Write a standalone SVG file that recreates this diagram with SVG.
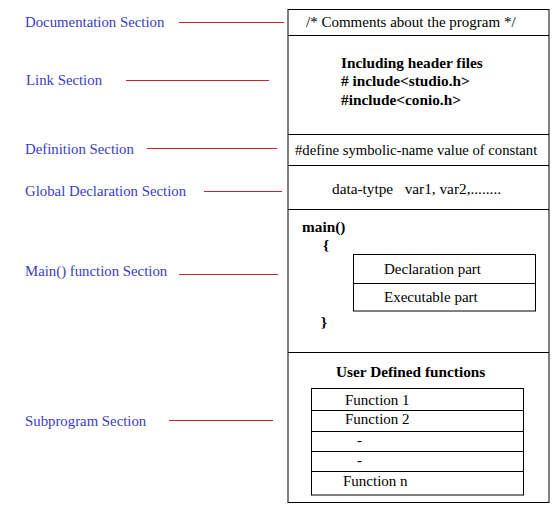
<svg xmlns="http://www.w3.org/2000/svg" width="560" height="510" viewBox="0 0 560 510">
<style>
.lbl{font-family:"Liberation Serif","Times New Roman",serif;font-size:14.8px;fill:#3c3cbe}
.t{font-family:"Liberation Serif","Times New Roman",serif;font-size:15px;fill:#000}
.b{font-weight:bold;font-size:15.3px}
.box{fill:none;stroke:#000;stroke-width:1}
.ln{stroke:#000;stroke-width:1}
.con{stroke:#c0282f;stroke-width:1.2}
</style>
<rect width="560" height="510" fill="#fff"/>
<g id="labels">
<text class="lbl" x="25" y="27">Documentation Section</text>
<text class="lbl" x="26" y="85">Link Section</text>
<text class="lbl" x="25" y="154">Definition Section</text>
<text class="lbl" x="25" y="196">Global Declaration Section</text>
<text class="lbl" x="25" y="276">Main() function Section</text>
<text class="lbl" x="25" y="426">Subprogram Section</text>
</g>
<g id="connectors">
<line class="con" x1="179" y1="22.5" x2="284" y2="22.5"/>
<line class="con" x1="126" y1="80.5" x2="269" y2="80.5"/>
<line class="con" x1="147" y1="148.5" x2="277" y2="148.5"/>
<line class="con" x1="204" y1="191.5" x2="282" y2="191.5"/>
<line class="con" x1="179" y1="274.5" x2="278" y2="274.5"/>
<line class="con" x1="169" y1="420.5" x2="273" y2="420.5"/>
</g>
<g id="program">
<rect class="box" x="288" y="9.5" width="261" height="493"/>
<line class="ln" x1="288" y1="35.5" x2="549" y2="35.5"/>
<line class="ln" x1="288" y1="134.5" x2="549" y2="134.5"/>
<line class="ln" x1="288" y1="165.5" x2="549" y2="165.5"/>
<line class="ln" x1="288" y1="209.5" x2="549" y2="209.5"/>
<line class="ln" x1="288" y1="352.5" x2="549" y2="352.5"/>
</g>
<g id="documentation">
<text class="t" x="306" y="27">/* Comments about the program */</text>
</g>
<g id="link">
<text class="t b" x="341" y="68">Including header files</text>
<text class="t b" x="341" y="86">#  include&lt;studio.h&gt;</text>
<text class="t b" x="341" y="105">#include&lt;conio.h&gt;</text>
</g>
<g id="definition">
<text class="t" x="295" y="155" style="font-size:14.7px">#define symbolic-name value of constant</text>
</g>
<g id="global">
<text class="t" x="332" y="194" xml:space="preserve" style="font-size:15.3px">data-tytpe   var1, var2,........</text>
</g>
<g id="main">
<text class="t b" x="302" y="232">main()</text>
<text class="t b" x="323" y="250">{</text>
<text class="t b" x="321" y="327">}</text>
<rect class="box" x="353.5" y="254.5" width="182" height="56.5"/>
<line class="ln" x1="353.5" y1="283.5" x2="535.5" y2="283.5"/>
<text class="t" x="384" y="274">Declaration part</text>
<text class="t" x="384" y="302">Executable part</text>
</g>
<g id="subprogram">
<text class="t b" x="336" y="377">User Defined functions</text>
<rect class="box" x="311.5" y="388.5" width="212" height="106.5"/>
<line class="ln" x1="311.5" y1="410.5" x2="523.5" y2="410.5"/>
<line class="ln" x1="311.5" y1="431.5" x2="523.5" y2="431.5"/>
<line class="ln" x1="311.5" y1="451.5" x2="523.5" y2="451.5"/>
<line class="ln" x1="311.5" y1="471.5" x2="523.5" y2="471.5"/>
<text class="t" x="345" y="405">Function 1</text>
<text class="t" x="345" y="424">Function 2</text>
<text class="t" x="357" y="445">-</text>
<text class="t" x="357" y="465">-</text>
<text class="t" x="343" y="486">Function n</text>
</g>
</svg>
